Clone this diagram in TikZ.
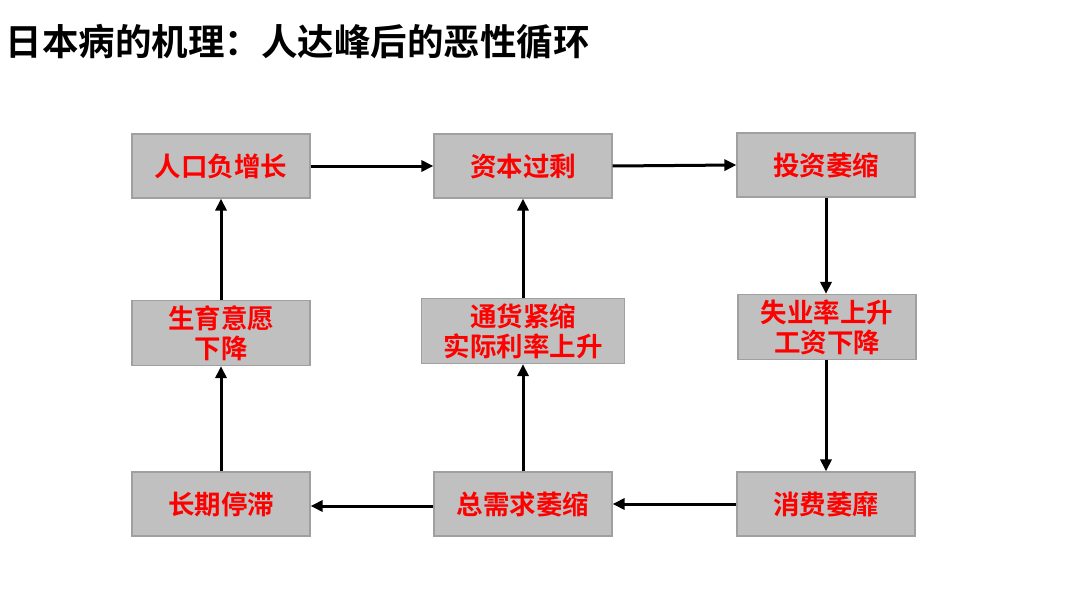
\documentclass[tikz,border=0pt]{standalone}
\usepackage{fontspec}
\usetikzlibrary{arrows.meta}
\newfontfamily\cjk{Noto Sans CJK SC Bold}
\definecolor{boxfill}{HTML}{C0C0C0}
\definecolor{boxline}{HTML}{A0A0A0}
\begin{document}
\begin{tikzpicture}[x=1pt,y=-1pt,
  box/.style={draw=boxline,line width=1.2pt,fill=boxfill,minimum width=178pt,minimum height=64pt,
    inner sep=0pt,align=center,text=red,font=\cjk\fontsize{26.5}{30}\selectfont},
  arr/.style={line width=3pt,-{Triangle[length=12pt,width=11pt]}}]
\useasboundingbox (0,0) rectangle (1080,602);
\node[anchor=west,font=\cjk\fontsize{36.5}{40}\selectfont] (title) at (2,42) {日本病的机理：人达峰后的恶性循环};
\node[box] (A) at (221,166) {人口负增长};
\node[box] (B) at (523,166) {资本过剩};
\node[box] (C) at (826,165) {投资萎缩};
\node[box,minimum height=65pt] (D) at (827,327) {失业率上升\\工资下降};
\node[box] (E) at (826,504) {消费萎靡};
\node[box] (F) at (523,504) {总需求萎缩};
\node[box] (G) at (221,504) {长期停滞};
\node[box,minimum height=65pt] (H) at (221,333) {生育意愿\\下降};
\node[box,minimum width=203pt,minimum height=65pt] (I) at (523,331) {通货紧缩\\实际利率上升};
\draw[arr] (A.east) -- (B.west);
\draw[arr] (B.east) -- (C.west);
\draw[arr] (C.south) -- (C.south |- D.north);
\draw[arr] (D.south -| E.north) -- (E.north);
\draw[arr] (E.west) -- (F.east);
\draw[arr] ([yshift=-2pt]F.west) -- ([yshift=-2pt]G.east);
\draw[arr] (G.north) -- (H.south);
\draw[arr] (H.north) -- (A.south);
\draw[arr] (F.north) -- (I.south);
\draw[arr] (I.north) -- (B.south);
\end{tikzpicture}
\end{document}
